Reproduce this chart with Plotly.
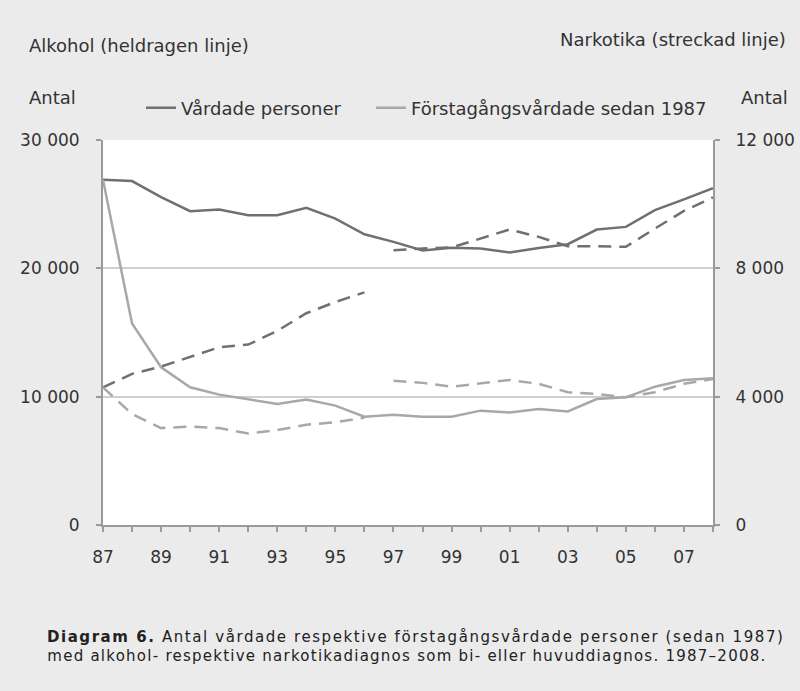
import plotly.graph_objects as go

# ---- data ----
years = list(range(1987, 2009))
years_a = list(range(1987, 1997))
years_b = list(range(1997, 2009))

alkohol_vardade = [26900, 26800, 25550, 24450, 24580, 24140, 24140, 24710, 23880, 22650, 22060,
                   21400, 21610, 21540, 21230, 21590, 21880, 23020, 23230, 24530, 25370, 26250]
alkohol_forsta = [26900, 15700, 12290, 10730, 10160, 9770, 9430, 9770, 9300, 8440, 8590,
                  8440, 8440, 8910, 8770, 9040, 8850, 9820, 9950, 10780, 11300, 11430]

narkotika_vardade_a = [4290, 4710, 4940, 5230, 5540, 5625, 6050, 6600, 6950, 7250]
narkotika_vardade_b = [8560, 8620, 8650, 8930, 9210, 8980, 8690, 8690, 8670, 9240, 9790, 10210]
narkotika_forsta_a = [4290, 3460, 3020, 3070, 3020, 2850, 2960, 3125, 3200, 3350]
narkotika_forsta_b = [4500, 4430, 4310, 4420, 4520, 4400, 4140, 4080, 3980, 4140, 4400, 4550]

x_ticktext = [str(y)[2:] if (y - 1987) % 2 == 0 else "" for y in years]
left_ticks = [0, 10000, 20000, 30000]
left_ticktext = ["0", "10 000", "20 000", "30 000"]
right_ticks = [0, 4000, 8000, 12000]
right_ticktext = ["0", "4 000", "8 000", "12 000"]

DARK = "#707070"
LIGHT = "#a8a8a8"
TEXT = "#333333"
FONT = "DejaVu Sans"
DASH = "13px,8px"

fig = go.Figure()

# dashed (narkotika, right axis)
fig.add_trace(go.Scatter(x=years_a, y=narkotika_vardade_a, mode="lines", yaxis="y2",
                         line=dict(color=DARK, width=2.5, dash=DASH), showlegend=False))
fig.add_trace(go.Scatter(x=years_b, y=narkotika_vardade_b, mode="lines", yaxis="y2",
                         line=dict(color=DARK, width=2.5, dash=DASH), showlegend=False))
fig.add_trace(go.Scatter(x=years_a, y=narkotika_forsta_a, mode="lines", yaxis="y2",
                         line=dict(color=LIGHT, width=2.5, dash=DASH), showlegend=False))
fig.add_trace(go.Scatter(x=years_b, y=narkotika_forsta_b, mode="lines", yaxis="y2",
                         line=dict(color=LIGHT, width=2.5, dash=DASH), showlegend=False))

# solid (alkohol, left axis)
fig.add_trace(go.Scatter(x=years, y=alkohol_vardade, mode="lines", name="Vårdade personer",
                         line=dict(color=DARK, width=2.5), legend="legend"))
fig.add_trace(go.Scatter(x=years, y=alkohol_forsta, mode="lines", name="Förstagångsvårdade sedan 1987",
                         line=dict(color=LIGHT, width=2.5), legend="legend2"))

legend_common = dict(orientation="h", xanchor="left", y=1.083, yanchor="middle",
                     bgcolor="rgba(0,0,0,0)", font=dict(size=18, color=TEXT, family=FONT))

axis_common = dict(showline=True, linecolor="#9a9a9a", linewidth=2, zeroline=False,
                   ticks="outside", ticklen=5, tickcolor="#9a9a9a", tickwidth=1.5,
                   tickfont=dict(size=17, family=FONT, color=TEXT), automargin=False)

fig.update_layout(
    width=800, height=691,
    margin=dict(l=103, r=87, t=140, b=166, autoexpand=False),
    paper_bgcolor="#ebebeb",
    plot_bgcolor="white",
    font=dict(family=FONT, size=18, color=TEXT),
    legend=dict(x=0.0623, **legend_common),
    legend2=dict(x=0.4393, **legend_common),
    xaxis=dict(range=[1987, 2008], tickmode="array", tickvals=years, ticktext=x_ticktext,
               showgrid=False, ticklabelstandoff=11, **axis_common),
    yaxis=dict(range=[0, 30000], tickmode="array", tickvals=left_ticks, ticktext=left_ticktext,
               showgrid=True, gridcolor="#cfcfcf", gridwidth=1.5, ticklabelstandoff=13, **axis_common),
    yaxis2=dict(range=[0, 12000], tickmode="array", tickvals=right_ticks, ticktext=right_ticktext,
                overlaying="y", side="right", showgrid=False, ticklabelstandoff=12, **axis_common),
)

ann = [
    dict(text="Alkohol (heldragen linje)", x=27, y=691 - 45, xanchor="left", yanchor="middle"),
    dict(text="Narkotika (streckad linje)", x=788, y=691 - 40, xanchor="right", yanchor="middle"),
    dict(text="Antal", x=27, y=691 - 97, xanchor="left", yanchor="middle"),
    dict(text="Antal", x=790, y=691 - 97, xanchor="right", yanchor="middle"),
    dict(text="<b>Diagram 6.</b> Antal vårdade respektive förstagångsvårdade personer (sedan 1987)",
         x=415, y=691 - 637, xanchor="center", yanchor="middle", font=dict(size=15, family=FONT, color="#222")),
    dict(text="med alkohol- respektive narkotikadiagnos som bi- eller huvuddiagnos. 1987–2008.",
         x=406, y=691 - 656, xanchor="center", yanchor="middle", font=dict(size=15, family=FONT, color="#222")),
]
for a in ann:
    a.setdefault("font", dict(size=18, family=FONT, color=TEXT))
    fig.add_annotation(xref="paper", yref="paper", showarrow=False,
                       **{k: v for k, v in a.items() if k not in ("x", "y")},
                       x=(a["x"] - 103) / 610, y=(a["y"] - 166) / 385)

post = """
document.body.style.margin='0';
var gd=document.getElementById('{plot_id}');
gd.querySelectorAll('text.annotation-text').forEach(function(t){
  var s=t.textContent;
  if(s.indexOf('Diagram 6.')===0){t.setAttribute('textLength','736');t.setAttribute('lengthAdjust','spacing');}
  else if(s.indexOf('med alkohol')===0){t.setAttribute('textLength','718');t.setAttribute('lengthAdjust','spacing');}
});
"""

fig.write_html("out.html", post_script=post, config={"displayModeBar": False})
